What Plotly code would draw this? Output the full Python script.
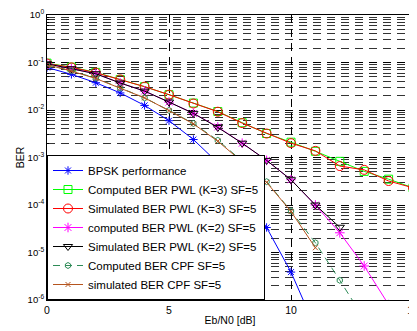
import plotly.graph_objects as go

x_db = list(range(0, 16))

bpsk = [0.0786, 0.0563, 0.0375, 0.0229, 0.0125, 0.00595, 0.00239, 0.000773,
        0.000191, 3.36e-5, 3.87e-6, 2.6e-7]
computed_k3 = [0.097, 0.080, 0.062, 0.044, 0.031, 0.021, 0.0140, 0.0093,
               0.0054, 0.0032, 0.0021, 0.00135, 0.00083, 0.00051, 0.00035, 0.00023]
simulated_k3 = [0.095, 0.079, 0.061, 0.044, 0.031, 0.021, 0.0137, 0.0092,
                0.0053, 0.0032, 0.0020, 0.00138, 0.00066, 0.00055, 0.00032, 0.00023]
computed_k2 = [0.094, 0.074, 0.058, 0.037, 0.025, 0.0147, 0.0085, 0.0044,
               0.0020, 8.7e-4, 3.4e-4, 1.0e-4, 2.6e-5, 5.2e-6, 8e-7]
simulated_k2 = [0.094, 0.074, 0.058, 0.037, 0.025, 0.0147, 0.0085, 0.0043,
                0.0020, 8.7e-4, 3.4e-4, 1.0e-4, 3.4e-5]
computed_cpf = [0.090, 0.067, 0.047, 0.029, 0.018, 0.0098, 0.0052, 0.0023,
                8.5e-4, 3.1e-4, 7.5e-5, 1.6e-5, 2.6e-6, 4e-7]
simulated_cpf = [0.090, 0.066, 0.046, 0.029, 0.018, 0.0097, 0.0051, 0.0022,
                 8.3e-4, 3.0e-4, 7.3e-5, 1.26e-5]

names = ["BPSK performance",
         "Computed BER PWL (K=3) SF=5",
         "Simulated BER PWL (K=3) SF=5",
         "computed BER PWL (K=2) SF=5",
         "Simulated BER PWL (K=2) SF=5",
         "Computed BER CPF SF=5",
         "simulated BER CPF SF=5"]

x_ticks = [0, 5, 10, 15]
y_ticks = [1e-6, 1e-5, 1e-4, 1e-3, 1e-2, 1e-1, 1]
y_ticktext = ["10<sup>-6</sup>", "10<sup>-5</sup>", "10<sup>-4</sup>",
              "10<sup>-3</sup>", "10<sup>-2</sup>", "10<sup>-1</sup>", "10<sup>0</sup>"]
y_minor = [m * 10.0 ** e for e in range(-6, 0) for m in range(2, 10)]

series = [
    (bpsk, "#0000FF", "asterisk-open", "solid", 7),
    (computed_k3, "#00FF00", "square-open", "solid", 8),
    (simulated_k3, "#FF0000", "circle-open", "solid", 9),
    (computed_k2, "#FF00FF", "asterisk-open", "solid", 8),
    (simulated_k2, "#000000", "triangle-down-open", "solid", 8),
    (computed_cpf, "#2E8B57", "hexagon-open", "7px,5px", 6),
    (simulated_cpf, "#B5541E", "x-thin-open", "solid", 5),
]

fig = go.Figure()
for (vals, color, sym, dash, size), name in zip(series, names):
    fig.add_trace(go.Scatter(
        x=x_db[:len(vals)], y=vals, name=name, mode="lines+markers",
        line=dict(color=color, width=1, dash=dash),
        marker=dict(symbol=sym, size=size, color=color,
                    line=dict(color=color, width=1)),
        cliponaxis=True,
    ))

FAM = "Liberation Sans, Arial, sans-serif"
font = dict(family=FAM, size=10, color="#000000")

# page body has an 8px default margin, so figure is sized to fit the window
fig.update_layout(
    width=409, height=323,
    margin=dict(l=39, r=4, t=7, b=31, autoexpand=False),
    paper_bgcolor="white", plot_bgcolor="white",
    font=font,
    showlegend=True,
    legend=dict(x=0, y=0, xanchor="left", yanchor="bottom",
                bgcolor="white", bordercolor="black", borderwidth=1,
                font=dict(family=FAM, size=11.5, color="#000000"),
                tracegroupgap=0, itemwidth=30),
)

fig.update_xaxes(
    range=[0, 15], tickvals=x_ticks, ticktext=[str(v) for v in x_ticks],
    showline=True, linecolor="black", linewidth=1, mirror="ticks",
    ticks="inside", ticklen=4, tickcolor="black",
    showgrid=True, gridcolor="black", gridwidth=1, griddash="8px,6px",
    zeroline=False, automargin=False, ticklabeloverflow="allow",
    tickfont=dict(family=FAM, size=10.5),
    title=dict(text="Eb/N0 [dB]", standoff=2, font=dict(family=FAM, size=10.5)),
)

fig.update_yaxes(
    type="log", range=[-6, 0], tickvals=y_ticks, ticktext=y_ticktext,
    showline=True, linecolor="black", linewidth=1, mirror="ticks",
    ticks="inside", ticklen=4, tickcolor="black",
    showgrid=True, gridcolor="black", gridwidth=1, griddash="8px,6px",
    zeroline=False, automargin=False, ticklabeloverflow="allow",
    tickfont=dict(family=FAM, size=9.5),
    minor=dict(tickmode="array", tickvals=y_minor, ticks="inside", ticklen=2,
               tickcolor="black", showgrid=True, gridcolor="#333333",
               gridwidth=1, griddash="8px,6px"),
    title=dict(text="BER", standoff=0, font=dict(family=FAM, size=10.5)),
)

fig.write_html("out.html")
